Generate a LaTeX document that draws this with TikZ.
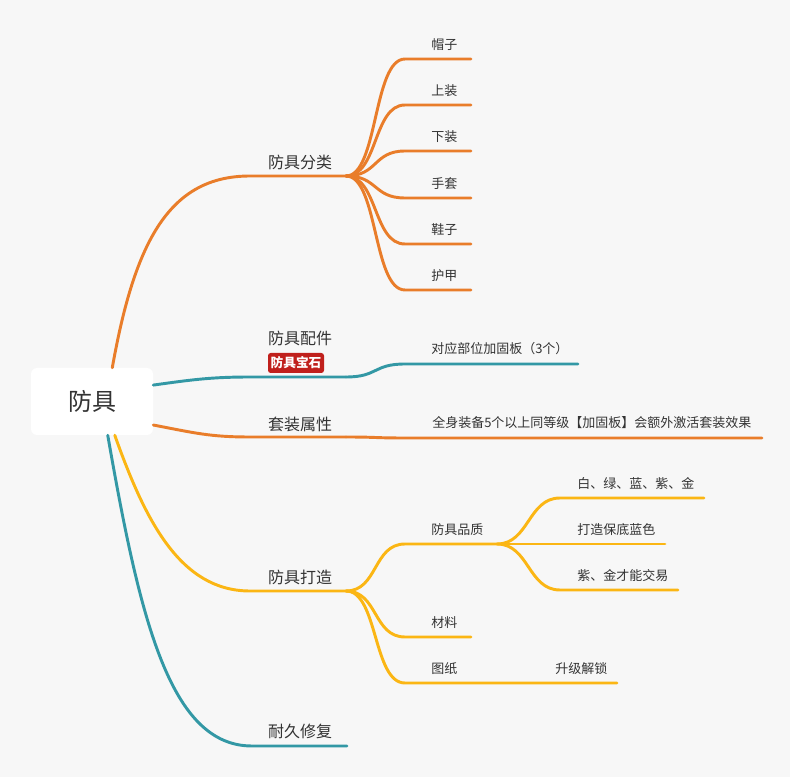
\documentclass[tikz,border=0pt]{standalone}
\usepackage{fontspec}
\setmainfont{Noto Sans CJK SC}
\usetikzlibrary{positioning}
\definecolor{mmbg}{HTML}{F7F7F7}
\definecolor{mmorange}{HTML}{E97D2A}
\definecolor{mmteal}{HTML}{3398A5}
\definecolor{mmyellow}{HTML}{FBB614}
\definecolor{mmred}{HTML}{C0201C}
\definecolor{mmtext}{HTML}{333333}
\tikzset{
  branch/.style={line width=2.2pt, line cap=round, line join=round},
  rootbox/.style={fill=white, rounded corners=4.5pt, minimum width=91.5pt, minimum height=50.25pt,
    font=\fontsize{18}{20}\selectfont, text=mmtext},
  toptext/.style={font=\fontsize{12}{14}\selectfont, text=mmtext, inner sep=0pt},
  subtext/.style={font=\fontsize{9.75}{12}\selectfont, text=mmtext, inner sep=0pt, anchor=west},
  gemtag/.style={fill=mmred, rounded corners=2pt, text=white, inner xsep=2pt, inner ysep=0pt,
    minimum height=15pt, font=\fontsize{9.5}{11}\selectfont\bfseries}
}
\begin{document}
\begin{tikzpicture}[x=0.75pt,y=-0.75pt]
  \fill[mmbg] (0,0) rectangle (790,777);
  \node[rootbox] (root) at (92,401.5) {防具};

  % 防具分类
  \coordinate (cls0) at (250,176); \coordinate (cls1) at (346,176);
  \draw[branch,mmorange] (root.59) .. controls (135,240) and (170,176) .. (cls0) -- (cls1);
  \node[toptext] (cls) at (300,162) {防具分类};
  \foreach \y/\t [count=\i] in {59/帽子,105/上装,151/下装,198/手套,244/鞋子,290/护甲}{
    \coordinate (kind\i) at (405,\y);
    \draw[branch,mmorange] (cls1) .. controls +(32,0) and +(-32,0) .. (kind\i) -- ++(66,0);
    \node[subtext] (kindt\i) at ([shift={(26,-14)}]kind\i) {\t};
  }

  % 防具配件
  \coordinate (acc0) at (250,377); \coordinate (acc1) at (346,377);
  \draw[branch,mmteal] (root.15) .. controls (190,380) and (210,377) .. (acc0) -- (acc1);
  \node[toptext] (acc) at (300,338) {防具配件};
  \node[gemtag] (gem) at (296,363) {防具宝石};
  \coordinate (plate0) at (405,364); \coordinate (plate1) at (578,364);
  \draw[branch,mmteal] (acc1) .. controls +(32,0) and +(-32,0) .. (plate0) -- (plate1);
  \node[subtext] (plate) at (431,349) {对应部位加固板（3个）};

  % 套装属性
  \coordinate (suit0) at (250,437); \coordinate (suit1) at (346,437);
  \draw[branch,mmorange] (root.-21) .. controls (195,433) and (210,437) .. (suit0) -- (suit1);
  \node[toptext] (suit) at (300,424) {套装属性};
  \coordinate (bonus0) at (405,438); \coordinate (bonus1) at (762,438);
  \draw[branch,mmorange] (suit1) .. controls +(32,0) and +(-32,0) .. (bonus0) -- (bonus1);
  \node[subtext] (bonus) at (432,423) {全身装备5个以上同等级【加固板】会额外激活套装效果};

  % 防具打造
  \coordinate (forge0) at (250,591); \coordinate (forge1) at (346,591);
  \draw[branch,mmyellow] (root.-56) .. controls (145,520) and (180,591) .. (forge0) -- (forge1);
  \node[toptext] (forge) at (300,577) {防具打造};
  \coordinate (qual0) at (405,544); \coordinate (qual1) at (497,544);
  \draw[branch,mmyellow] (forge1) .. controls +(32,0) and +(-32,0) .. (qual0) -- (qual1);
  \node[subtext] (qual) at (431,530) {防具品质};
  \foreach \y/\l/\t [count=\i] in {498/144/白、绿、蓝、紫、金,544/105/打造保底蓝色,590/118/紫、金才能交易}{
    \coordinate (grade\i) at (560,\y);
    \draw[branch,mmyellow] (qual1) .. controls +(32,0) and +(-32,0) .. (grade\i) -- ++(\l,0);
    \node[subtext] (gradet\i) at ([shift={(17,-14)}]grade\i) {\t};
  }
  \coordinate (mat0) at (405,637); \coordinate (mat1) at (471,637);
  \draw[branch,mmyellow] (forge1) .. controls +(32,0) and +(-32,0) .. (mat0) -- (mat1);
  \node[subtext] (mat) at (431,623) {材料};
  \coordinate (plan0) at (405,683); \coordinate (plan1) at (497,683); \coordinate (unlock1) at (617,683);
  \draw[branch,mmyellow] (forge1) .. controls +(32,0) and +(-32,0) .. (plan0) -- (plan1) -- (unlock1);
  \node[subtext] (plan) at (431,669) {图纸};
  \node[subtext] (unlock) at (555,669) {升级解锁};

  % 耐久修复
  \coordinate (dur0) at (252,746); \coordinate (dur1) at (347,746);
  \draw[branch,mmteal] (root.-65) .. controls (140,620) and (170,746) .. (dur0) -- (dur1);
  \node[toptext] (dur) at (300,731) {耐久修复};
\end{tikzpicture}
\end{document}
